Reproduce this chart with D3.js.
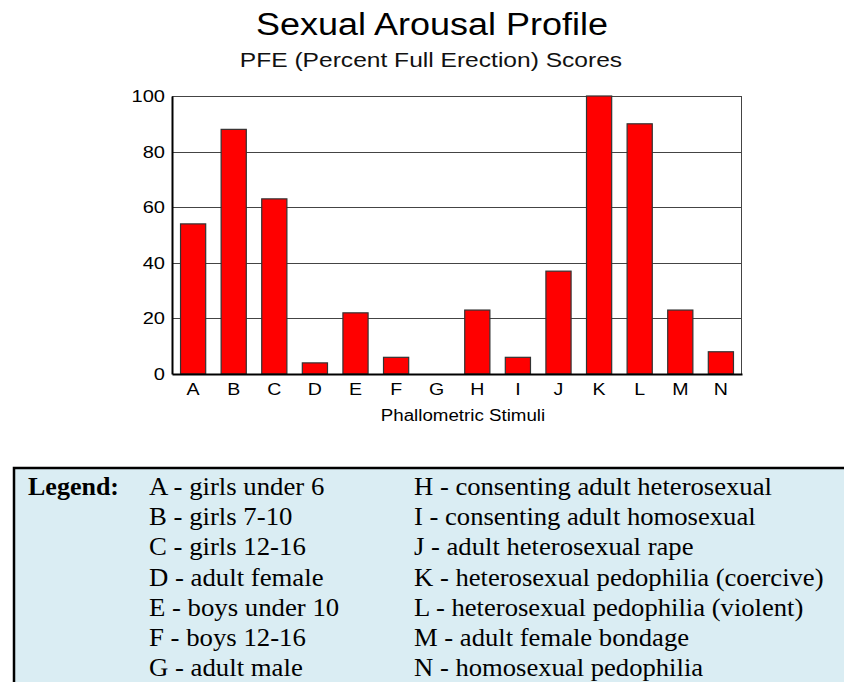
<!DOCTYPE html>
<html>
<head>
<meta charset="utf-8">
<script src="https://cdn.jsdelivr.net/npm/d3@7"></script>
<style>
  body { margin: 0; background: #fff; }
  svg { display: block; }
</style>
</head>
<body>
<svg id="chart" width="844" height="682"></svg>
<script>
const categories = ["A","B","C","D","E","F","G","H","I","J","K","L","M","N"];
const values = [54, 88, 63, 4, 22, 6, 0, 23, 6, 37, 100, 90, 23, 8];
const yTicks = [0, 20, 40, 60, 80, 100];
const legendLeft = ["A - girls under 6","B - girls 7-10","C - girls 12-16","D - adult female","E - boys under 10","F - boys 12-16","G - adult male"];
const legendRight = ["H - consenting adult heterosexual","I - consenting adult homosexual","J - adult heterosexual rape","K - heterosexual pedophilia (coercive)","L - heterosexual pedophilia (violent)","M - adult female bondage","N - homosexual pedophilia"];
const title = "Sexual Arousal Profile";
const subtitle = "PFE (Percent Full Erection) Scores";
const xTitle = "Phallometric Stimuli";

const svg = d3.select("#chart");
const sans = "'Liberation Sans', Arial, sans-serif";
const serif = "'Liberation Serif', 'Times New Roman', serif";

// widen glyphs horizontally (reference text is slightly stretched)
function stretch(sel, f) {
  sel.each(function() {
    const w = this.getComputedTextLength();
    d3.select(this).attr("textLength", w * f).attr("lengthAdjust", "spacingAndGlyphs");
  });
}

const plot = {left: 172, right: 742, top: 96, bottom: 374};

const x = d3.scaleBand().domain(categories).range([plot.left, plot.right]).paddingInner(0.38).paddingOuter(0.21);
const y = d3.scaleLinear().domain([0, 100]).range([plot.bottom, plot.top]);

// titles
svg.append("text").attr("x", 432).attr("y", 35).attr("text-anchor", "middle")
  .style("font-family", sans).style("font-size", "31px").attr("fill", "#000").text(title)
  .call(stretch, 1.16);
svg.append("text").attr("x", 431).attr("y", 67).attr("text-anchor", "middle")
  .style("font-family", sans).style("font-size", "21px").attr("fill", "#111").text(subtitle)
  .call(stretch, 1.17);

// gridlines
svg.append("g").selectAll("line").data(yTicks.filter(d => d > 0 && d < 100)).join("line")
  .attr("x1", plot.left).attr("x2", plot.right)
  .attr("y1", d => Math.round(y(d)) + 0.5).attr("y2", d => Math.round(y(d)) + 0.5)
  .attr("stroke", "#444").attr("stroke-width", 1);

// frame top & right
svg.append("line").attr("x1", plot.left).attr("x2", plot.right).attr("y1", plot.top + 0.5).attr("y2", plot.top + 0.5).attr("stroke", "#444");
svg.append("line").attr("x1", plot.right - 0.5).attr("x2", plot.right - 0.5).attr("y1", plot.top).attr("y2", plot.bottom).attr("stroke", "#444");

// bars
svg.append("g").selectAll("rect").data(categories).join("rect")
  .attr("x", d => x(d)).attr("width", x.bandwidth())
  .attr("y", (d, i) => y(values[i])).attr("height", (d, i) => y(0) - y(values[i]))
  .attr("fill", "#ff0000").attr("stroke", "#333").attr("stroke-width", 1.2)
  .style("display", (d, i) => values[i] > 0 ? null : "none");

// axes
const yAxis = d3.axisLeft(y).tickValues(yTicks).tickSize(0).tickPadding(7);
const gy = svg.append("g").attr("transform", `translate(${plot.left},0)`).call(yAxis);
gy.select(".domain").attr("stroke", "#000").attr("stroke-width", 2);
gy.selectAll("text").style("font-family", sans).style("font-size", "17px").attr("fill", "#000").call(stretch, 1.18);

const xAxis = d3.axisBottom(x).tickSize(0).tickPadding(9);
const gx = svg.append("g").attr("transform", `translate(0,${plot.bottom})`).call(xAxis);
gx.select(".domain").attr("stroke", "#000").attr("stroke-width", 2);
gx.selectAll("text").style("font-family", sans).style("font-size", "17px").attr("fill", "#000").call(stretch, 1.15);

svg.append("text").attr("x", 463).attr("y", 421).attr("text-anchor", "middle")
  .style("font-family", sans).style("font-size", "16px").attr("fill", "#000").text(xTitle)
  .call(stretch, 1.17);

// legend box
svg.append("rect").attr("x", 14).attr("y", 468).attr("width", 840).attr("height", 230)
  .attr("fill", "#daedf3").attr("stroke", "#000").attr("stroke-width", 2.5);

svg.append("text").attr("x", 28).attr("y", 495)
  .style("font-family", serif).style("font-size", "25px").style("font-weight", "bold").attr("fill", "#000").text("Legend:")
  .call(stretch, 1.04);

const rowY = d3.scaleLinear().domain([0, 6]).range([495, 676]);
svg.append("g").selectAll("text").data(legendLeft).join("text")
  .attr("x", 149).attr("y", (d, i) => rowY(i))
  .style("font-family", serif).style("font-size", "25px").attr("fill", "#000").text(d => d)
  .call(stretch, 1.07);
svg.append("g").selectAll("text").data(legendRight).join("text")
  .attr("x", 414).attr("y", (d, i) => rowY(i))
  .style("font-family", serif).style("font-size", "25px").attr("fill", "#000").text(d => d)
  .call(stretch, 1.065);
</script>
</body>
</html>
